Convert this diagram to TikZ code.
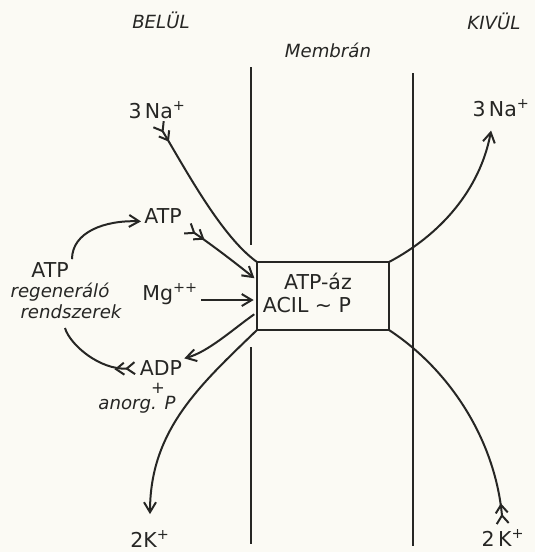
\documentclass[tikz,border=0pt]{standalone}
\usepackage{fontspec}
\setmainfont{DejaVu Sans}
\usepackage{xcolor}
\usepackage{tikz}
\usetikzlibrary{arrows.meta,calc}
\definecolor{paper}{RGB}{251,250,244}
\definecolor{ink}{RGB}{38,38,36}

\begin{document}
\begin{tikzpicture}[
  x=0.03cm, y=-0.03cm,
  line width=1.7pt, draw=ink, text=ink,
  lab/.style={font=\fontsize{17.5}{20}\selectfont, inner sep=2pt},
  hdr/.style={font=\fontsize{15.5}{18}\selectfont\itshape, inner sep=2pt},
  note/.style={font=\fontsize{15.5}{18}\selectfont\itshape, inner sep=1pt},
  enzbox/.style={draw, minimum width=3.96cm, minimum height=2.04cm, inner sep=0pt, outer sep=0pt},
  mem/.style={line width=1.7pt},
  arr/.style={-{Straight Barb[length=3mm,width=3.6mm]}},
  feath/.style={{Straight Barb[reversed,length=2.4mm,width=3.6mm,sep=0.6mm]Straight Barb[reversed,length=2.4mm,width=3.6mm]}-},
  fetharr/.style={{Straight Barb[reversed,length=2.4mm,width=3.6mm,sep=0.6mm]Straight Barb[reversed,length=2.4mm,width=3.6mm]}-{Straight Barb[length=3mm,width=3.6mm]}}
]
\fill[paper] (0,0) rectangle (535,552);
\useasboundingbox (0,0) rectangle (535,552);

% ---------------- headings ----------------
\node[hdr] (belul) at (161,20) {BELÜL};
\node[hdr] (membr) at (328,50) {Membrán};
\node[hdr] (kivul) at (494,21) {KIVÜL};

% ---------------- membrane ----------------
\coordinate (mLt) at (251,67);
\coordinate (mLu) at (251,245);
\coordinate (mLl) at (251,347);
\coordinate (mLb) at (251,544);
\coordinate (mRt) at (413,73);
\coordinate (mRb) at (413,546);
\draw[mem] (mLt) -- (mLu);
\draw[mem] (mLl) -- (mLb);
\draw[mem] (mRt) -- (mRb);

% ---------------- carrier ----------------
\node[enzbox] (enz) at (323,296) {};
\node[lab] (ase) at (318,281) {ATP-áz};
\node[lab] (acil) at (307,305) {ACIL ∼ P};

% ---------------- inside ----------------
\node[lab] (na_in) at (157,110) {3\,Na\textsuperscript{+}};
\node[lab] (atp) at (163,216) {ATP};
\node[lab] (mg) at (170,294) {Mg\textsuperscript{++}};
\node[lab, inner sep=1pt] (adp) at (161,368) {ADP};
\node[lab, inner sep=0pt, font=\fontsize{14}{16}\selectfont] (plus) at (158,388) {+};
\node[note, inner sep=0pt] (anorg) at (137,405) {anorg. P};
\node[lab] (atpreg) at (50,270) {ATP};
\node[note] (regen1) at (60,292) {regeneráló};
\node[note] (regen2) at (71,312) {rendszerek};
\node[lab] (k_in) at (150,539) {2K\textsuperscript{+}};
\coordinate (cycend) at (65,328);

% ---------------- outside ----------------
\node[lab] (na_out) at (501,108) {3\,Na\textsuperscript{+}};
\node[lab] (k_out) at (503,538) {2\,K\textsuperscript{+}};

% ---------------- fluxes ----------------
\draw[feath] (na_in.south) .. controls (187,172) and (222,237) .. (enz.north west);
\draw[arr, shorten >=1.5mm] (enz.north east) .. controls (440,235) and (480,190) .. ($(na_out.south)+(-9,6)$);
\draw[feath] (k_out.north) .. controls (495,440) and (450,370) .. (enz.south east);
\draw[arr, shorten >=4mm] (enz.south west) .. controls (200,385) and (150,430) .. (k_in.north);

\draw[fetharr, shorten >=1mm] (atp.south east) .. controls (205,240) and (232,260) .. ($(enz.north west)!0.27!(enz.south west)$);
\draw[arr, shorten >=1mm] (mg.base east) -- (mg.base east -| enz.west);
\draw[arr, shorten <=1mm] ($(enz.north west)!0.74!(enz.south west)$) .. controls (232,330) and (208,352) .. (adp.north east);

% ---------------- regeneration ----------------
\draw[arr] (atpreg.north east) .. controls (72,232) and (105,220) .. ($(atp.west)!0.5!(atp.south west)$);
\draw[feath] (adp.west) .. controls (100,370) and (70,345) .. (cycend);
\end{tikzpicture}
\end{document}
